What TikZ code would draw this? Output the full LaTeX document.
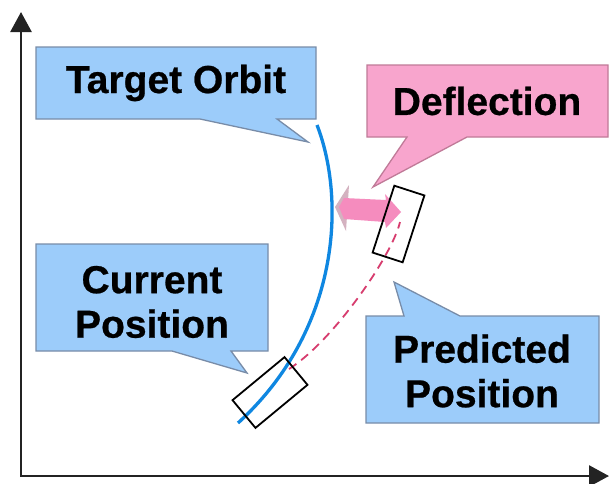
\documentclass[tikz,border=0pt]{standalone}
\usepackage{fontspec}
\setmainfont{Liberation Sans}[BoldFeatures={FakeBold=0.6}]
\usetikzlibrary{arrows.meta}

\definecolor{calloutblue}{RGB}{156,204,250}
\definecolor{calloutedge}{RGB}{120,140,168}
\definecolor{calloutpink}{RGB}{248,165,205}
\definecolor{pinkedge}{RGB}{192,122,152}
\definecolor{arrowpink}{RGB}{245,140,190}
\definecolor{arrowshade}{RGB}{212,178,192}
\definecolor{orbitblue}{RGB}{15,135,225}
\definecolor{pathred}{RGB}{215,60,110}
\definecolor{axisgray}{RGB}{35,35,35}

\begin{document}
\begin{tikzpicture}[x=1pt,y=-1pt,
  bluecallout/.style={fill=calloutblue,draw=calloutedge,line width=1.3pt,line join=miter},
  pinkcallout/.style={fill=calloutpink,draw=pinkedge,line width=1.3pt,line join=miter},
  caption/.style={font=\fontsize{39}{44.5}\selectfont\bfseries,align=center,inner sep=0pt,text=black},
  axisline/.style={draw=axisgray,line width=2.6pt,line join=miter,
    {Triangle[width=21pt,length=20pt]}-{Triangle[width=21pt,length=20pt]}},
  orbit/.style={draw=orbitblue,line width=3.3pt},
  predicted path/.style={draw=pathred,line width=1.8pt,dash pattern=on 9pt off 6pt},
  carbox/.style={draw=black,line width=1.8pt,inner sep=0pt,fill=none}
]
\useasboundingbox (0,0) rectangle (609,483);
\fill[white] (0,0) rectangle (609,483);

% axes
\coordinate (origin) at (21,476);
\coordinate (ytip) at (21,12);
\coordinate (xtip) at (609,476);
\draw[axisline] (ytip) -- (origin) -- (xtip);

% callout: target orbit
\path[bluecallout] (36,47) -- (316,47) -- (316,119) -- (277,119) -- (308,142)
  -- (200,119) -- (36,119) -- cycle;
\node[caption] (target) at (176,83) {Target Orbit};

% callout: deflection
\path[pinkcallout] (367,65) -- (608,65) -- (608,137) -- (467,137) -- (373,187)
  -- (407,137) -- (367,137) -- cycle;
\node[caption] (deflection) at (487,101) {Deflection};

% callout: current position
\path[bluecallout] (36,244) -- (268,244) -- (268,351) -- (231,351) -- (247,373)
  -- (172,351) -- (36,351) -- cycle;
\node[caption] (current) at (152,302) {Current\\Position};

% callout: predicted position
\path[bluecallout] (366,316) -- (404,316) -- (394,282) -- (460,316) -- (599,316)
  -- (599,423) -- (366,423) -- cycle;
\node[caption] (predicted) at (482,371) {Predicted\\Position};

% target orbit
\coordinate (orbtop) at (317,125);
\coordinate (orbbot) at (238,423);
\draw[orbit] (orbtop) .. controls (346,200) and (340,330) .. (orbbot);

% predicted path
\coordinate (pathstart) at (289,369);
\coordinate (pathend) at (400,222);
\draw[predicted path] (pathstart) .. controls (333,341) and (392,256) .. (pathend);

% deflection arrow
\fill[arrowshade] (335,207) -- (349,185) -- (346,231) -- cycle;
\fill[arrowpink] (339,207) -- (344,198) -- (386,200) -- (385,194) -- (401,212)
  -- (386,228) -- (385,222) -- (344,219) -- cycle;

% satellite boxes
\node[carbox,minimum width=67.5pt,minimum height=36pt,rotate=39.6] (satnow) at (270,392.5) {};
\node[carbox,minimum width=31.6pt,minimum height=70.3pt,rotate=-18] (satnext) at (398.5,224) {};
\end{tikzpicture}
\end{document}
